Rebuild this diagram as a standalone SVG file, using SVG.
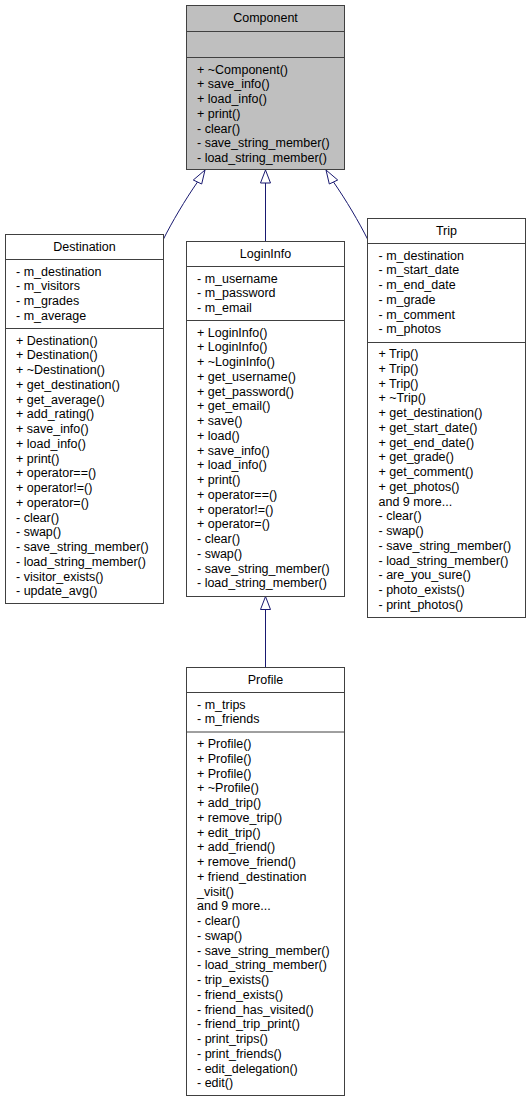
<svg xmlns="http://www.w3.org/2000/svg" width="531" height="1101" viewBox="0 0 531 1101">
  <style>
    .box { fill: #ffffff; stroke: #404040; stroke-width: 1; }
    .root { fill: #bfbfbf; stroke: #404040; stroke-width: 1; }
    .sep { stroke: #404040; stroke-width: 1; fill: none; }
    text { font-family: "Liberation Sans", Arial, sans-serif; font-size: 12.5px; fill: #000000; }
    .title { text-anchor: middle; }
    .edge { stroke: #191970; stroke-width: 1; fill: none; }
    .head { stroke: #191970; stroke-width: 1; fill: #ffffff; }
  </style>
  <rect width="531" height="1101" fill="#ffffff"/>

  <!-- inheritance edges -->
  <g id="edges">
    <path class="edge" d="M163,240 C172,222 185,200 197.5,182"/>
    <polygon class="head" points="205,170 193.3,180 201.7,184"/>
    <path class="edge" d="M265.5,241.5 L265.5,183"/>
    <polygon class="head" points="265.5,170 260.5,183 270.5,183"/>
    <path class="edge" d="M368,240 C359,222 346,200 333.5,182"/>
    <polygon class="head" points="326,170 337.7,180 329.3,184"/>
    <path class="edge" d="M265.5,667.5 L265.5,609.5"/>
    <polygon class="head" points="265.5,596.5 260.5,609.5 270.5,609.5"/>
  </g>

  <!-- base class -->
  <g id="node-Component">
    <rect class="root" x="186.5" y="5.5" width="158" height="164"/>
    <line class="sep" x1="186.5" y1="31.5" x2="344.5" y2="31.5"/>
    <line class="sep" x1="186.5" y1="57.5" x2="344.5" y2="57.5"/>
    <text class="title" x="265.5" y="21.5">Component</text>
    <text x="197" y="73.5">
      <tspan x="197">+ ~Component()</tspan>
      <tspan x="197" dy="14.75">+ save_info()</tspan>
      <tspan x="197" dy="14.75">+ load_info()</tspan>
      <tspan x="197" dy="14.75">+ print()</tspan>
      <tspan x="197" dy="14.75">- clear()</tspan>
      <tspan x="197" dy="14.75">- save_string_member()</tspan>
      <tspan x="197" dy="14.75">- load_string_member()</tspan>
    </text>
  </g>

  <g id="node-Destination">
    <rect class="box" x="5.5" y="234.5" width="158" height="369"/>
    <line class="sep" x1="5.5" y1="259.5" x2="163.5" y2="259.5"/>
    <line class="sep" x1="5.5" y1="328.5" x2="163.5" y2="328.5"/>
    <text class="title" x="84.5" y="250.5">Destination</text>
    <text x="16" y="275.5">
      <tspan x="16">- m_destination</tspan>
      <tspan x="16" dy="14.75">- m_visitors</tspan>
      <tspan x="16" dy="14.75">- m_grades</tspan>
      <tspan x="16" dy="14.75">- m_average</tspan>
    </text>
    <text x="16" y="344.5">
      <tspan x="16">+ Destination()</tspan>
      <tspan x="16" dy="14.75">+ Destination()</tspan>
      <tspan x="16" dy="14.75">+ ~Destination()</tspan>
      <tspan x="16" dy="14.75">+ get_destination()</tspan>
      <tspan x="16" dy="14.75">+ get_average()</tspan>
      <tspan x="16" dy="14.75">+ add_rating()</tspan>
      <tspan x="16" dy="14.75">+ save_info()</tspan>
      <tspan x="16" dy="14.75">+ load_info()</tspan>
      <tspan x="16" dy="14.75">+ print()</tspan>
      <tspan x="16" dy="14.75">+ operator==()</tspan>
      <tspan x="16" dy="14.75">+ operator!=()</tspan>
      <tspan x="16" dy="14.75">+ operator=()</tspan>
      <tspan x="16" dy="14.75">- clear()</tspan>
      <tspan x="16" dy="14.75">- swap()</tspan>
      <tspan x="16" dy="14.75">- save_string_member()</tspan>
      <tspan x="16" dy="14.75">- load_string_member()</tspan>
      <tspan x="16" dy="14.75">- visitor_exists()</tspan>
      <tspan x="16" dy="14.75">- update_avg()</tspan>
    </text>
  </g>

  <g id="node-LoginInfo">
    <rect class="box" x="186.5" y="241.5" width="158" height="355"/>
    <line class="sep" x1="186.5" y1="266.5" x2="344.5" y2="266.5"/>
    <line class="sep" x1="186.5" y1="320.5" x2="344.5" y2="320.5"/>
    <text class="title" x="265.5" y="257.5">LoginInfo</text>
    <text x="197" y="282.5">
      <tspan x="197">- m_username</tspan>
      <tspan x="197" dy="14.75">- m_password</tspan>
      <tspan x="197" dy="14.75">- m_email</tspan>
    </text>
    <text x="197" y="336.5">
      <tspan x="197">+ LoginInfo()</tspan>
      <tspan x="197" dy="14.75">+ LoginInfo()</tspan>
      <tspan x="197" dy="14.75">+ ~LoginInfo()</tspan>
      <tspan x="197" dy="14.75">+ get_username()</tspan>
      <tspan x="197" dy="14.75">+ get_password()</tspan>
      <tspan x="197" dy="14.75">+ get_email()</tspan>
      <tspan x="197" dy="14.75">+ save()</tspan>
      <tspan x="197" dy="14.75">+ load()</tspan>
      <tspan x="197" dy="14.75">+ save_info()</tspan>
      <tspan x="197" dy="14.75">+ load_info()</tspan>
      <tspan x="197" dy="14.75">+ print()</tspan>
      <tspan x="197" dy="14.75">+ operator==()</tspan>
      <tspan x="197" dy="14.75">+ operator!=()</tspan>
      <tspan x="197" dy="14.75">+ operator=()</tspan>
      <tspan x="197" dy="14.75">- clear()</tspan>
      <tspan x="197" dy="14.75">- swap()</tspan>
      <tspan x="197" dy="14.75">- save_string_member()</tspan>
      <tspan x="197" dy="14.75">- load_string_member()</tspan>
    </text>
  </g>

  <g id="node-Trip">
    <rect class="box" x="367.5" y="218.5" width="158" height="399"/>
    <line class="sep" x1="367.5" y1="243.5" x2="525.5" y2="243.5"/>
    <line class="sep" x1="367.5" y1="342.5" x2="525.5" y2="342.5"/>
    <text class="title" x="446.5" y="234.5">Trip</text>
    <text x="378.5" y="259.5">
      <tspan x="378.5">- m_destination</tspan>
      <tspan x="378.5" dy="14.75">- m_start_date</tspan>
      <tspan x="378.5" dy="14.75">- m_end_date</tspan>
      <tspan x="378.5" dy="14.75">- m_grade</tspan>
      <tspan x="378.5" dy="14.75">- m_comment</tspan>
      <tspan x="378.5" dy="14.75">- m_photos</tspan>
    </text>
    <text x="378.5" y="358">
      <tspan x="378.5">+ Trip()</tspan>
      <tspan x="378.5" dy="14.75">+ Trip()</tspan>
      <tspan x="378.5" dy="14.75">+ Trip()</tspan>
      <tspan x="378.5" dy="14.75">+ ~Trip()</tspan>
      <tspan x="378.5" dy="14.75">+ get_destination()</tspan>
      <tspan x="378.5" dy="14.75">+ get_start_date()</tspan>
      <tspan x="378.5" dy="14.75">+ get_end_date()</tspan>
      <tspan x="378.5" dy="14.75">+ get_grade()</tspan>
      <tspan x="378.5" dy="14.75">+ get_comment()</tspan>
      <tspan x="378.5" dy="14.75">+ get_photos()</tspan>
      <tspan x="378.5" dy="14.75">and 9 more...</tspan>
      <tspan x="378.5" dy="14.75">- clear()</tspan>
      <tspan x="378.5" dy="14.75">- swap()</tspan>
      <tspan x="378.5" dy="14.75">- save_string_member()</tspan>
      <tspan x="378.5" dy="14.75">- load_string_member()</tspan>
      <tspan x="378.5" dy="14.75">- are_you_sure()</tspan>
      <tspan x="378.5" dy="14.75">- photo_exists()</tspan>
      <tspan x="378.5" dy="14.75">- print_photos()</tspan>
    </text>
  </g>

  <g id="node-Profile">
    <rect class="box" x="186.5" y="667.5" width="158" height="428"/>
    <line class="sep" x1="186.5" y1="692.5" x2="344.5" y2="692.5"/>
    <line class="sep" x1="186.5" y1="732" x2="344.5" y2="732"/>
    <text class="title" x="265.5" y="683.5">Profile</text>
    <text x="197" y="708.5">
      <tspan x="197">- m_trips</tspan>
      <tspan x="197" dy="14.75">- m_friends</tspan>
    </text>
    <text x="197" y="748">
      <tspan x="197">+ Profile()</tspan>
      <tspan x="197" dy="14.75">+ Profile()</tspan>
      <tspan x="197" dy="14.75">+ Profile()</tspan>
      <tspan x="197" dy="14.75">+ ~Profile()</tspan>
      <tspan x="197" dy="14.75">+ add_trip()</tspan>
      <tspan x="197" dy="14.75">+ remove_trip()</tspan>
      <tspan x="197" dy="14.75">+ edit_trip()</tspan>
      <tspan x="197" dy="14.75">+ add_friend()</tspan>
      <tspan x="197" dy="14.75">+ remove_friend()</tspan>
      <tspan x="197" dy="14.75">+ friend_destination</tspan>
      <tspan x="197" dy="14.75">_visit()</tspan>
      <tspan x="197" dy="14.75">and 9 more...</tspan>
      <tspan x="197" dy="14.75">- clear()</tspan>
      <tspan x="197" dy="14.75">- swap()</tspan>
      <tspan x="197" dy="14.75">- save_string_member()</tspan>
      <tspan x="197" dy="14.75">- load_string_member()</tspan>
      <tspan x="197" dy="14.75">- trip_exists()</tspan>
      <tspan x="197" dy="14.75">- friend_exists()</tspan>
      <tspan x="197" dy="14.75">- friend_has_visited()</tspan>
      <tspan x="197" dy="14.75">- friend_trip_print()</tspan>
      <tspan x="197" dy="14.75">- print_trips()</tspan>
      <tspan x="197" dy="14.75">- print_friends()</tspan>
      <tspan x="197" dy="14.75">- edit_delegation()</tspan>
      <tspan x="197" dy="14.75">- edit()</tspan>
    </text>
  </g>
</svg>
